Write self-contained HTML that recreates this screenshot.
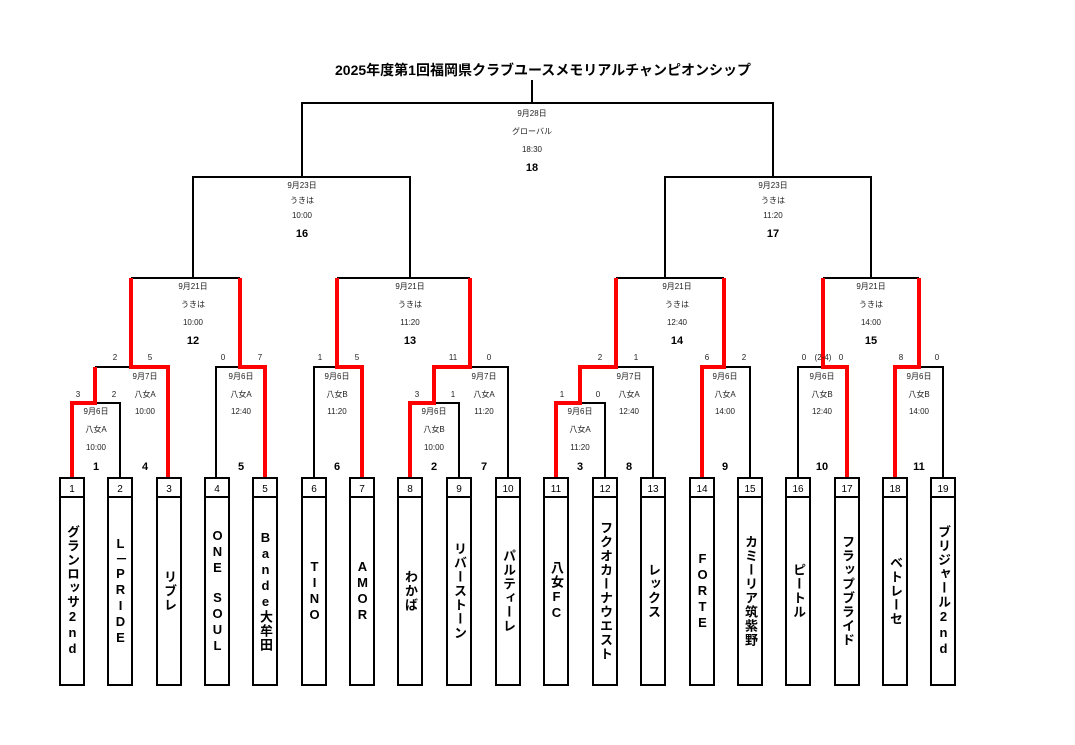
<!DOCTYPE html>
<html><head><meta charset="utf-8"><style>
html,body{margin:0;padding:0;background:#fff;}
#w{position:relative;width:1075px;height:745px;overflow:hidden;font-family:"Liberation Sans","Noto Sans CJK JP",sans-serif;}
svg{position:absolute;left:0;top:0;}
.n{position:absolute;top:497px;height:188px;width:25px;display:flex;align-items:center;justify-content:center;}
.n span{writing-mode:vertical-rl;text-orientation:upright;font-weight:bold;font-size:13px;letter-spacing:1px;color:#000;line-height:1;}
</style></head><body><div id="w">
<svg width="1075" height="745" viewBox="0 0 1075 745" font-family="Liberation Sans, Noto Sans CJK JP, sans-serif">
<text x="543" y="75" text-anchor="middle" font-size="14" font-weight="bold">2025年度第1回福岡県クラブユースメモリアルチャンピオンシップ</text>
<g fill="none" stroke="#000" stroke-width="2">
<path d="M532 80V103"/>
<path d="M302 177V103H773V177"/>
<path d="M193 278V177H410V278"/>
<path d="M665 278V177H871V278"/>
<path d="M131 278H240M337 278H470M616 278H724M823 278H919"/>
<path d="M95 367H131"/>
<path d="M95 403H120V478"/>
<path d="M240 367H216V478"/>
<path d="M337 367H314V478"/>
<path d="M470 367H508V478"/>
<path d="M434 403H459V478"/>
<path d="M617 367H653V478"/>
<path d="M580 403H605V478"/>
<path d="M725 367H750V478"/>
<path d="M822 367H798V478"/>
<path d="M919 367H943V478"/>
</g>
<g fill="none" stroke="#f00" stroke-width="4">
<path d="M131 278V367H168V478"/>
<path d="M240 278V367H265V478"/>
<path d="M95 367V403H72V478"/>
<path d="M337 278V367H362V478"/>
<path d="M470 278V367H434V403H410V478"/>
<path d="M616 278V367H580V403H556V478"/>
<path d="M724 278V367H702V478"/>
<path d="M823 278V367H847V478"/>
<path d="M919 278V367H895V478"/>
</g>
<g fill="#fff" stroke="#000" stroke-width="2">
<rect x="60" y="478" width="24" height="19"/><rect x="60" y="497" width="24" height="188"/>
<rect x="108" y="478" width="24" height="19"/><rect x="108" y="497" width="24" height="188"/>
<rect x="157" y="478" width="24" height="19"/><rect x="157" y="497" width="24" height="188"/>
<rect x="205" y="478" width="24" height="19"/><rect x="205" y="497" width="24" height="188"/>
<rect x="253" y="478" width="24" height="19"/><rect x="253" y="497" width="24" height="188"/>
<rect x="302" y="478" width="24" height="19"/><rect x="302" y="497" width="24" height="188"/>
<rect x="350" y="478" width="24" height="19"/><rect x="350" y="497" width="24" height="188"/>
<rect x="398" y="478" width="24" height="19"/><rect x="398" y="497" width="24" height="188"/>
<rect x="447" y="478" width="24" height="19"/><rect x="447" y="497" width="24" height="188"/>
<rect x="496" y="478" width="24" height="19"/><rect x="496" y="497" width="24" height="188"/>
<rect x="544" y="478" width="24" height="19"/><rect x="544" y="497" width="24" height="188"/>
<rect x="593" y="478" width="24" height="19"/><rect x="593" y="497" width="24" height="188"/>
<rect x="641" y="478" width="24" height="19"/><rect x="641" y="497" width="24" height="188"/>
<rect x="690" y="478" width="24" height="19"/><rect x="690" y="497" width="24" height="188"/>
<rect x="738" y="478" width="24" height="19"/><rect x="738" y="497" width="24" height="188"/>
<rect x="786" y="478" width="24" height="19"/><rect x="786" y="497" width="24" height="188"/>
<rect x="835" y="478" width="24" height="19"/><rect x="835" y="497" width="24" height="188"/>
<rect x="883" y="478" width="24" height="19"/><rect x="883" y="497" width="24" height="188"/>
<rect x="931" y="478" width="24" height="19"/><rect x="931" y="497" width="24" height="188"/>
</g>
<g font-size="10" text-anchor="middle" fill="#000">
<text x="72" y="492">1</text><text x="120" y="492">2</text><text x="169" y="492">3</text><text x="217" y="492">4</text><text x="265" y="492">5</text><text x="314" y="492">6</text><text x="362" y="492">7</text><text x="410" y="492">8</text><text x="459" y="492">9</text><text x="508" y="492">10</text><text x="556" y="492">11</text><text x="605" y="492">12</text><text x="653" y="492">13</text><text x="702" y="492">14</text><text x="750" y="492">15</text><text x="798" y="492">16</text><text x="847" y="492">17</text><text x="895" y="492">18</text><text x="943" y="492">19</text>
</g>
<g font-size="8" text-anchor="middle" fill="#222">
<!-- final -->
<text x="532" y="116">9月28日</text><text x="532" y="134">グローバル</text><text x="532" y="152">18:30</text>
<text x="302" y="188">9月23日</text><text x="302" y="203">うきは</text><text x="302" y="218">10:00</text>
<text x="773" y="188">9月23日</text><text x="773" y="203">うきは</text><text x="773" y="218">11:20</text>
<text x="193" y="289">9月21日</text><text x="193" y="307">うきは</text><text x="193" y="325">10:00</text>
<text x="410" y="289">9月21日</text><text x="410" y="307">うきは</text><text x="410" y="325">11:20</text>
<text x="677" y="289">9月21日</text><text x="677" y="307">うきは</text><text x="677" y="325">12:40</text>
<text x="871" y="289">9月21日</text><text x="871" y="307">うきは</text><text x="871" y="325">14:00</text>
<text x="145" y="379">9月7日</text><text x="145" y="397">八女A</text><text x="145" y="414">10:00</text>
<text x="241" y="379">9月6日</text><text x="241" y="397">八女A</text><text x="241" y="414">12:40</text>
<text x="337" y="379">9月6日</text><text x="337" y="397">八女B</text><text x="337" y="414">11:20</text>
<text x="484" y="379">9月7日</text><text x="484" y="397">八女A</text><text x="484" y="414">11:20</text>
<text x="629" y="379">9月7日</text><text x="629" y="397">八女A</text><text x="629" y="414">12:40</text>
<text x="725" y="379">9月6日</text><text x="725" y="397">八女A</text><text x="725" y="414">14:00</text>
<text x="822" y="379">9月6日</text><text x="822" y="397">八女B</text><text x="822" y="414">12:40</text>
<text x="919" y="379">9月6日</text><text x="919" y="397">八女B</text><text x="919" y="414">14:00</text>
<text x="96" y="414">9月6日</text><text x="96" y="432">八女A</text><text x="96" y="450">10:00</text>
<text x="434" y="414">9月6日</text><text x="434" y="432">八女B</text><text x="434" y="450">10:00</text>
<text x="580" y="414">9月6日</text><text x="580" y="432">八女A</text><text x="580" y="450">11:20</text>
<!-- scores -->
<text x="115" y="360">2</text><text x="150" y="360">5</text>
<text x="78" y="397">3</text><text x="114" y="397">2</text>
<text x="223" y="360">0</text><text x="260" y="360">7</text>
<text x="320" y="360">1</text><text x="357" y="360">5</text>
<text x="453" y="360">11</text><text x="489" y="360">0</text>
<text x="417" y="397">3</text><text x="453" y="397">1</text>
<text x="600" y="360">2</text><text x="636" y="360">1</text>
<text x="562" y="397">1</text><text x="598" y="397">0</text>
<text x="707" y="360">6</text><text x="744" y="360">2</text>
<text x="804" y="360">0</text><text x="823" y="360">(2-4)</text><text x="841" y="360">0</text>
<text x="901" y="360">8</text><text x="937" y="360">0</text>
</g>
<g font-size="11" font-weight="bold" text-anchor="middle">
<text x="532" y="171">18</text><text x="302" y="237">16</text><text x="773" y="237">17</text>
<text x="193" y="344">12</text><text x="410" y="344">13</text><text x="677" y="344">14</text><text x="871" y="344">15</text>
<text x="96" y="470">1</text><text x="145" y="470">4</text><text x="241" y="470">5</text><text x="337" y="470">6</text><text x="434" y="470">2</text><text x="484" y="470">7</text><text x="580" y="470">3</text><text x="629" y="470">8</text><text x="725" y="470">9</text><text x="822" y="470">10</text><text x="919" y="470">11</text>
</g>
</svg>
<div class="n" style="left:60px"><span>グランロッサ2nd</span></div>
<div class="n" style="left:108px"><span>L－PRIDE</span></div>
<div class="n" style="left:157px"><span>リブレ</span></div>
<div class="n" style="left:205px"><span>ONE　SOUL</span></div>
<div class="n" style="left:253px"><span>Bande大牟田</span></div>
<div class="n" style="left:302px"><span>TINO</span></div>
<div class="n" style="left:350px"><span>AMOR</span></div>
<div class="n" style="left:398px"><span>わかば</span></div>
<div class="n" style="left:447px"><span>リバーストーン</span></div>
<div class="n" style="left:496px"><span>パルティーレ</span></div>
<div class="n" style="left:544px"><span>八女FC</span></div>
<div class="n" style="left:593px"><span>フクオカーナウエスト</span></div>
<div class="n" style="left:641px"><span>レックス</span></div>
<div class="n" style="left:690px"><span>FORTE</span></div>
<div class="n" style="left:738px"><span>カミーリア筑紫野</span></div>
<div class="n" style="left:786px"><span>ピートル</span></div>
<div class="n" style="left:835px"><span>フラップブライド</span></div>
<div class="n" style="left:883px"><span>ベトレーセ</span></div>
<div class="n" style="left:931px"><span>ブリジャール2nd</span></div>
</div></body></html>
